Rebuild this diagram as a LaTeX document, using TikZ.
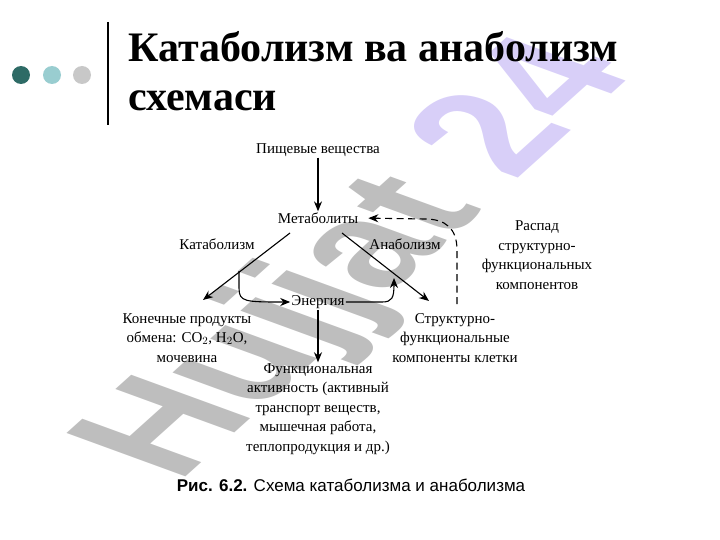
\documentclass[tikz,border=0pt]{standalone}
\usepackage{fontspec}
\setmainfont{Liberation Serif}
\newfontfamily\capfont{Liberation Sans}
\usetikzlibrary{arrows.meta}
\definecolor{dotA}{RGB}{46,107,102}
\definecolor{dotB}{RGB}{153,205,208}
\definecolor{dotC}{RGB}{200,200,200}
\definecolor{wmgray}{RGB}{190,190,190}
\definecolor{wmlav}{RGB}{216,207,248}
\tikzset{
  lbl/.style={font=\fontsize{15}{19.5}\selectfont, align=center, inner sep=1pt},
  ttl/.style={anchor=base west, inner sep=0, font=\bfseries\fontsize{42}{50}\selectfont},
  arr/.style={line width=1.1pt, -{Stealth[length=10pt,width=8pt]}},
  dsh/.style={line width=1.1pt, dash pattern=on 7pt off 4.5pt, -{Stealth[length=10pt,width=8pt]}},
}
\begin{document}
\begin{tikzpicture}[x=1pt,y=-1pt]
\useasboundingbox (0,0) rectangle (720,540);
% watermark (rotated, then squashed vertically)
\begin{scope}[shift={(178,484)}, yscale=0.573]
\node[anchor=base west, rotate=57.5, transform shape, inner sep=0,
      font=\capfont\bfseries\fontsize{205}{205}\selectfont] (wm) at (0,0)
  {\textcolor{wmgray}{Hujjat} \textcolor{wmlav}{24}};
\end{scope}
% header
\fill[dotA] (21,75) circle (9);
\fill[dotB] (52,75) circle (9);
\fill[dotC] (82,75) circle (9);
\draw[line width=2.6pt] (108,22) -- (108,125);
\node[ttl] (title1) at (128,62) {Катаболизм ва анаболизм};
\node[ttl] (title2) at (128,111) {схемаси};
% diagram
\node[lbl] (food) at (318,150) {Пищевые вещества};
\node[lbl] (met) at (318,218) {Метаболиты};
\node[lbl] (kat) at (217,244) {Катаболизм};
\node[lbl] (ana) at (405,244) {Анаболизм};
\node[lbl] (rasp) at (537,255) {Распад\\структурно-\\функциональных\\компонентов};
\node[lbl] (en) at (318,302) {Энергия};
\node[lbl] (kon) at (187,338) {Конечные продукты\\обмена: CO$_2$, H$_2$O,\\мочевина};
\node[lbl] (str) at (455,338) {Структурно-\\функциональные\\компоненты клетки};
\node[lbl] (fun) at (318,409) {Функциональная\\активность (активный\\транспорт веществ,\\мышечная работа,\\теплопродукция и др.)};
\node[inner sep=0, font=\capfont\fontsize{17}{20}\selectfont] (cap) at (351,485) {\textbf{Рис. 6.2.} Схема катаболизма и анаболизма};
% connectors
\coordinate (k0) at (290,233);
\coordinate (k1) at (203,300);
\coordinate (a0) at (342,233);
\coordinate (a1) at (429,301);
\coordinate (kb) at (239,271);
\coordinate (ab) at (394,278);
\coordinate (d0) at (457,304);
\draw[arr] (food) -- (met);
\draw[arr] (k0) -- (k1);
\draw[arr] (a0) -- (a1);
\draw[arr] (kb) -- (239,288) .. controls (239,302) and (245,302) .. (en.west);
\draw[arr] (en.east) -- (382,302) .. controls (392,302) and (394,298) .. (ab);
\draw[arr] (en) -- (fun);
\draw[dsh, shorten >=9pt] (d0) -- (457,250) .. controls (457,228) and (445,219) .. (425,219) -- (met.east);
\end{tikzpicture}
\end{document}
